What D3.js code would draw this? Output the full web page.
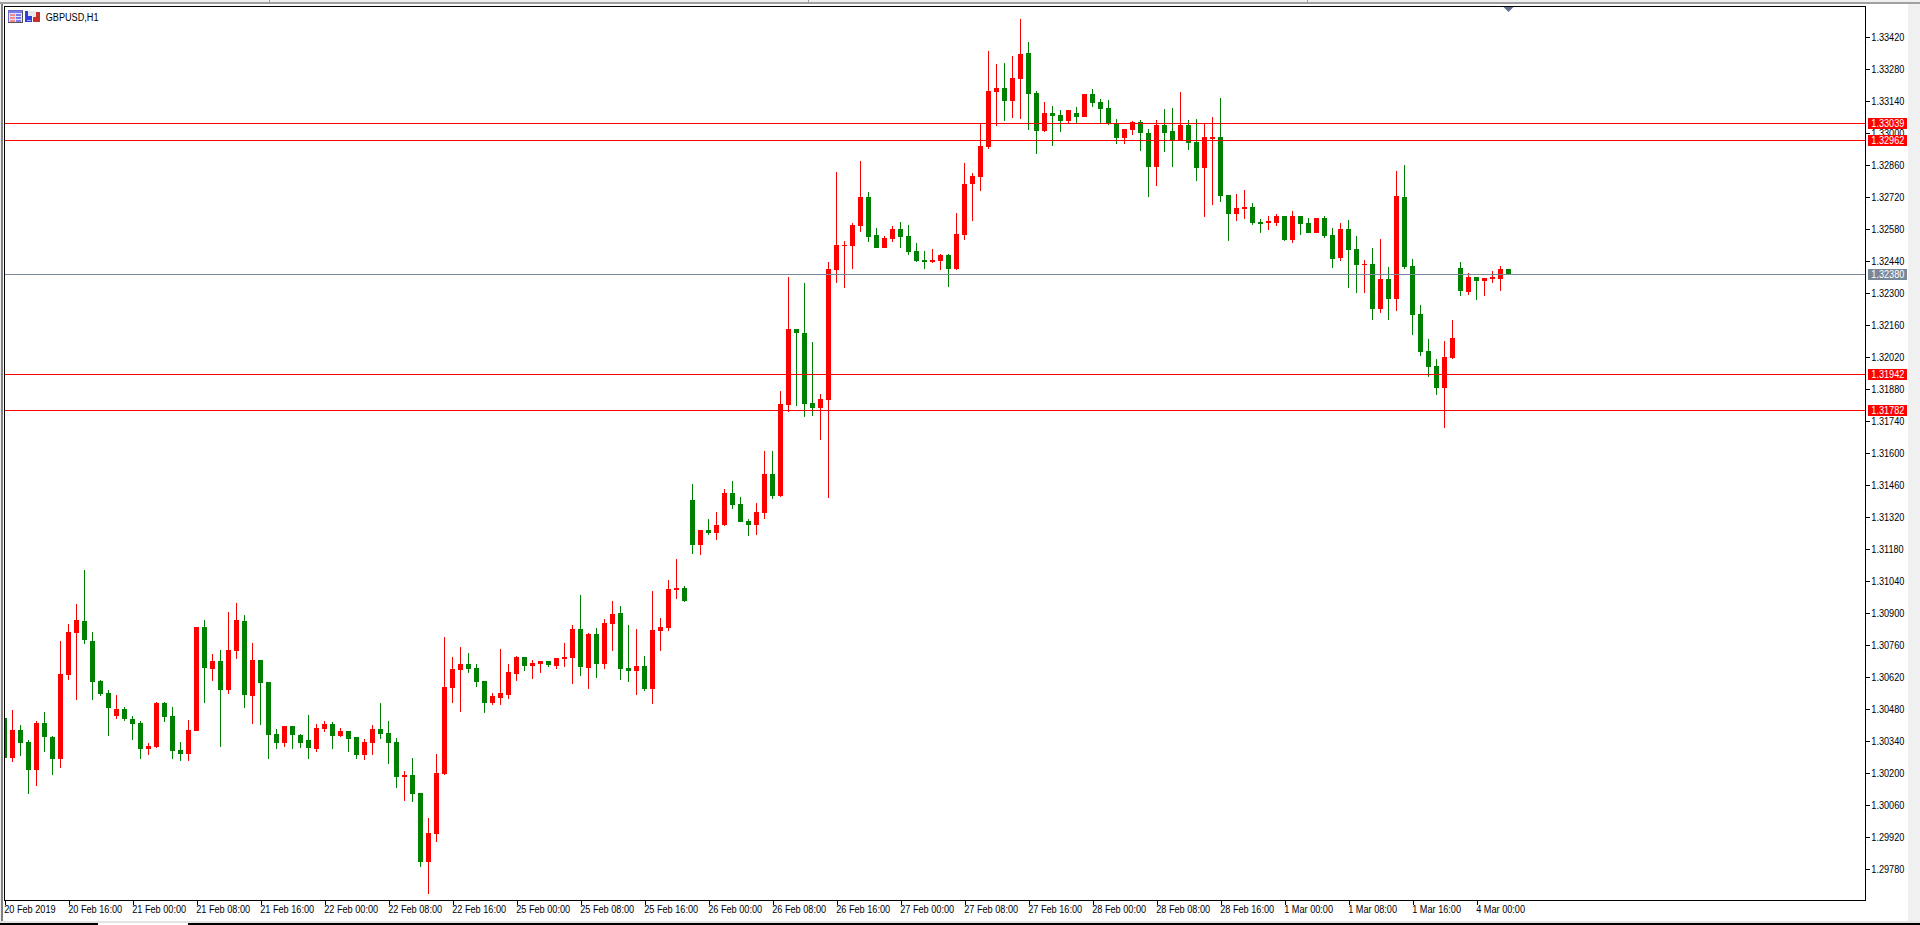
<!DOCTYPE html>
<html><head><meta charset="utf-8">
<script src="https://cdn.jsdelivr.net/npm/d3@7/dist/d3.min.js"></script>
<style>
html,body{margin:0;padding:0;background:#fff;overflow:hidden}
svg{display:block}
text{font-family:"Liberation Sans",Arial,sans-serif;font-size:10px;fill:#000}
</style></head><body>
<svg id="c" width="1920" height="925"></svg>
<script>
const symbol = "GBPUSD,H1";
const xLabels = ["20 Feb 2019","20 Feb 16:00","21 Feb 00:00","21 Feb 08:00","21 Feb 16:00","22 Feb 00:00","22 Feb 08:00","22 Feb 16:00","25 Feb 00:00","25 Feb 08:00","25 Feb 16:00","26 Feb 00:00","26 Feb 08:00","26 Feb 16:00","27 Feb 00:00","27 Feb 08:00","27 Feb 16:00","28 Feb 00:00","28 Feb 08:00","28 Feb 16:00","1 Mar 00:00","1 Mar 08:00","1 Mar 16:00","4 Mar 00:00"];
const yTicks = [1.33420,1.33280,1.33140,1.33000,1.32860,1.32720,1.32580,1.32440,1.32300,1.32160,1.32020,1.31880,1.31740,1.31600,1.31460,1.31320,1.31180,1.31040,1.30900,1.30760,1.30620,1.30480,1.30340,1.30200,1.30060,1.29920,1.29780];
const redLevels = [1.33039,1.32962,1.31942,1.31782];
const lastPrice = 1.32380;

const opens = [1.30438,1.30263,1.30386,1.30333,1.30211,1.30416,1.30355,1.30259,1.30626,1.30810,1.30863,1.30775,1.30600,1.30548,1.30447,1.30478,1.30434,1.30416,1.30303,1.30311,1.30504,1.30447,1.30298,1.30281,1.30381,1.30836,1.30653,1.30688,1.30561,1.30731,1.30863,1.30535,1.30692,1.30596,1.30368,1.30329,1.30403,1.30364,1.30342,1.30303,1.30390,1.30412,1.30360,1.30381,1.30355,1.30276,1.30329,1.30390,1.30373,1.30333,1.30180,1.30189,1.30110,1.29808,1.29931,1.30193,1.30570,1.30648,1.30675,1.30657,1.30600,1.30504,1.30526,1.30539,1.30631,1.30705,1.30666,1.30675,1.30688,1.30666,1.30696,1.30701,1.30828,1.30657,1.30806,1.30675,1.30850,1.30898,1.30657,1.30644,1.30666,1.30565,1.30819,1.30832,1.30998,1.31007,1.31392,1.31195,1.31261,1.31248,1.31283,1.31423,1.31375,1.31300,1.31283,1.31335,1.31506,1.31410,1.31808,1.32140,1.32123,1.31817,1.31795,1.31830,1.32399,1.32504,1.32504,1.32591,1.32718,1.32552,1.32495,1.32534,1.32578,1.32547,1.32482,1.32442,1.32434,1.32438,1.32464,1.32403,1.32552,1.32775,1.32806,1.32937,1.33177,1.33195,1.33138,1.33234,1.33348,1.33173,1.33007,1.33086,1.33077,1.33051,1.33086,1.33068,1.33169,1.33134,1.33107,1.33037,1.32976,1.33011,1.33046,1.32998,1.32849,1.33033,1.33007,1.32967,1.33033,1.32959,1.32845,1.32972,1.32981,1.32727,1.32644,1.32666,1.32674,1.32609,1.32604,1.32604,1.32635,1.32530,1.32635,1.32604,1.32561,1.32626,1.32552,1.32451,1.32578,1.32491,1.32421,1.32425,1.32228,1.32359,1.32272,1.32718,1.32416,1.32206,1.32044,1.31979,1.31882,1.32014,1.32407,1.32302,1.32368,1.32351,1.32359,1.32359,1.32403];
const highs = [1.30438,1.30473,1.30408,1.30342,1.30425,1.30465,1.30360,1.30775,1.30850,1.30937,1.31086,1.30815,1.30605,1.30561,1.30539,1.30486,1.30447,1.30425,1.30329,1.30508,1.30508,1.30486,1.30333,1.30429,1.30836,1.30867,1.30718,1.30736,1.30902,1.30941,1.30889,1.30766,1.30692,1.30596,1.30390,1.30403,1.30403,1.30368,1.30451,1.30412,1.30425,1.30421,1.30394,1.30381,1.30355,1.30346,1.30408,1.30504,1.30425,1.30351,1.30206,1.30263,1.30110,1.30001,1.30281,1.30793,1.30705,1.30749,1.30723,1.30675,1.30600,1.30548,1.30740,1.30675,1.30710,1.30705,1.30692,1.30688,1.30688,1.30701,1.30766,1.30845,1.30976,1.30810,1.30832,1.30871,1.30950,1.30928,1.30845,1.30828,1.30710,1.30994,1.30876,1.31042,1.31134,1.31016,1.31462,1.31261,1.31309,1.31340,1.31440,1.31475,1.31405,1.31309,1.31379,1.31607,1.31607,1.31869,1.32368,1.32140,1.32342,1.32084,1.31856,1.32434,1.32827,1.32526,1.32604,1.32876,1.32740,1.32582,1.32547,1.32591,1.32609,1.32596,1.32517,1.32482,1.32491,1.32469,1.32469,1.32648,1.32867,1.32823,1.33037,1.33357,1.33300,1.33304,1.33335,1.33497,1.33396,1.33182,1.33134,1.33116,1.33099,1.33099,1.33112,1.33169,1.33191,1.33147,1.33142,1.33059,1.33016,1.33051,1.33055,1.33016,1.33055,1.33103,1.33107,1.33177,1.33055,1.33059,1.33037,1.33068,1.33151,1.32727,1.32731,1.32749,1.32692,1.32622,1.32635,1.32644,1.32635,1.32657,1.32635,1.32626,1.32626,1.32635,1.32582,1.32604,1.32617,1.32547,1.32442,1.32495,1.32534,1.32412,1.32832,1.32858,1.32447,1.32246,1.32097,1.32009,1.32088,1.32180,1.32434,1.32386,1.32368,1.32364,1.32394,1.32416,1.32403];
const lows = [1.30263,1.30246,1.30272,1.30106,1.30141,1.30290,1.30189,1.30220,1.30605,1.30517,1.30762,1.30517,1.30535,1.30360,1.30434,1.30425,1.30342,1.30259,1.30276,1.30307,1.30421,1.30259,1.30250,1.30250,1.30381,1.30504,1.30600,1.30311,1.30543,1.30696,1.30482,1.30412,1.30408,1.30259,1.30303,1.30311,1.30303,1.30307,1.30259,1.30290,1.30377,1.30303,1.30355,1.30290,1.30259,1.30254,1.30276,1.30346,1.30237,1.30132,1.30075,1.30071,1.29786,1.29668,1.29896,1.30189,1.30504,1.30465,1.30635,1.30574,1.30460,1.30495,1.30495,1.30521,1.30600,1.30644,1.30609,1.30635,1.30661,1.30653,1.30661,1.30587,1.30622,1.30565,1.30613,1.30653,1.30731,1.30605,1.30596,1.30539,1.30556,1.30500,1.30731,1.30819,1.30959,1.30946,1.31156,1.31152,1.31239,1.31217,1.31278,1.31353,1.31296,1.31235,1.31239,1.31309,1.31397,1.31405,1.31777,1.31804,1.31756,1.31760,1.31655,1.31401,1.32342,1.32320,1.32403,1.32565,1.32521,1.32495,1.32495,1.32521,1.32495,1.32464,1.32434,1.32403,1.32429,1.32399,1.32324,1.32399,1.32530,1.32613,1.32744,1.32928,1.33029,1.33051,1.33064,1.33059,1.33011,1.32906,1.33002,1.32941,1.33002,1.33042,1.33042,1.33068,1.33112,1.33042,1.33033,1.32950,1.32950,1.32989,1.32919,1.32718,1.32766,1.32915,1.32849,1.32967,1.32924,1.32788,1.32631,1.32683,1.32696,1.32526,1.32613,1.32622,1.32596,1.32561,1.32574,1.32591,1.32526,1.32517,1.32552,1.32561,1.32561,1.32539,1.32407,1.32438,1.32320,1.32298,1.32298,1.32180,1.32211,1.32180,1.32219,1.32403,1.32114,1.32022,1.31931,1.31852,1.31707,1.32009,1.32285,1.32289,1.32267,1.32285,1.32342,1.32307,1.32380];
const closes = [1.30263,1.30386,1.30329,1.30211,1.30416,1.30355,1.30259,1.30631,1.30815,1.30867,1.30780,1.30596,1.30543,1.30482,1.30478,1.30434,1.30412,1.30303,1.30316,1.30504,1.30443,1.30294,1.30281,1.30386,1.30836,1.30657,1.30688,1.30561,1.30736,1.30867,1.30539,1.30692,1.30591,1.30364,1.30329,1.30403,1.30364,1.30329,1.30307,1.30394,1.30412,1.30360,1.30381,1.30346,1.30276,1.30333,1.30390,1.30368,1.30329,1.30180,1.30189,1.30106,1.29808,1.29935,1.30198,1.30574,1.30653,1.30675,1.30653,1.30596,1.30504,1.30535,1.30548,1.30640,1.30705,1.30666,1.30679,1.30688,1.30670,1.30701,1.30705,1.30828,1.30661,1.30806,1.30675,1.30854,1.30893,1.30653,1.30644,1.30666,1.30565,1.30823,1.30836,1.31003,1.31007,1.30950,1.31195,1.31261,1.31248,1.31283,1.31423,1.31370,1.31296,1.31283,1.31340,1.31506,1.31410,1.31812,1.32140,1.32123,1.31812,1.31795,1.31834,1.32403,1.32508,1.32508,1.32596,1.32718,1.32543,1.32495,1.32539,1.32578,1.32543,1.32477,1.32438,1.32434,1.32442,1.32464,1.32403,1.32556,1.32775,1.32810,1.32941,1.33182,1.33195,1.33138,1.33239,1.33344,1.33169,1.33007,1.33086,1.33072,1.33051,1.33099,1.33068,1.33169,1.33129,1.33103,1.33037,1.32976,1.33016,1.33046,1.32998,1.32849,1.33033,1.32998,1.32967,1.33033,1.32954,1.32845,1.32981,1.32981,1.32722,1.32644,1.32670,1.32674,1.32604,1.32600,1.32613,1.32635,1.32530,1.32635,1.32600,1.32561,1.32626,1.32547,1.32447,1.32578,1.32486,1.32421,1.32425,1.32228,1.32359,1.32272,1.32722,1.32412,1.32202,1.32040,1.31974,1.31882,1.32018,1.32101,1.32307,1.32368,1.32351,1.32364,1.32368,1.32403,1.32380];

const svg = d3.select("#c");
const x = d3.scaleLinear().domain([0, 188]).range([4.5, 1508.5]);
const y = d3.scaleLinear().domain([1.29780, 1.33420]).range([868.5, 36.5]);
const UP = "#ff0000", DOWN = "#008000", SLATE = "#778899";
const ry = v => Math.round(y(v));
const levelRow = v => Math.round(y(v) - 0.7);

// squeeze glyphs so 10px text occupies the narrower width of the reference's terminal font
function squeeze(sel) {
  sel.each(function () {
    const n = this.getComputedTextLength();
    this.setAttribute("textLength", (n * 0.915).toFixed(2));
    this.setAttribute("lengthAdjust", "spacingAndGlyphs");
  });
  return sel;
}

// window chrome
const chrome = svg.append("g").attr("shape-rendering", "crispEdges");
chrome.append("rect").attr("x",0).attr("y",0).attr("width",1920).attr("height",2).attr("fill","#f0f0f0");
chrome.append("rect").attr("x",0).attr("y",2).attr("width",1920).attr("height",2).attr("fill","#a0a0a0");
chrome.append("rect").attr("x",0).attr("y",4).attr("width",1).attr("height",921).attr("fill","#f0f0f0");
chrome.append("rect").attr("x",1).attr("y",4).attr("width",2).attr("height",917).attr("fill","#808080");
chrome.append("rect").attr("x",1908).attr("y",4).attr("width",12).attr("height",917).attr("fill","#f0f0f0");
chrome.append("rect").attr("x",0).attr("y",921).attr("width",1920).attr("height",2).attr("fill","#e4e4e4");
chrome.append("rect").attr("x",0).attr("y",923).attr("width",98).attr("height",2).attr("fill","#000");
chrome.append("rect").attr("x",188).attr("y",923).attr("width",1732).attr("height",2).attr("fill","#000");
[269,808,1307].forEach(sx => chrome.append("rect").attr("x",sx).attr("y",0).attr("width",1).attr("height",2).attr("fill","#a0a0a0"));

// clipped plot area
svg.append("clipPath").attr("id","plot").append("rect").attr("x",5).attr("y",7).attr("width",1860).attr("height",893);
const plot = svg.append("g").attr("clip-path","url(#plot)").attr("shape-rendering","crispEdges");

const idx = d3.range(opens.length);
const colour = i => closes[i] >= opens[i] ? UP : DOWN;
plot.selectAll("line.wick").data(idx).join("line").attr("class","wick")
  .attr("x1", i => x(i)).attr("x2", i => x(i))
  .attr("y1", i => ry(highs[i])).attr("y2", i => ry(lows[i]))
  .attr("stroke", colour).attr("stroke-width", 1);
plot.selectAll("rect.body").data(idx).join("rect").attr("class","body")
  .attr("x", i => x(i) - 2.5).attr("width", 5)
  .attr("y", i => ry(Math.max(opens[i], closes[i])))
  .attr("height", i => Math.max(1, ry(Math.min(opens[i], closes[i])) - ry(Math.max(opens[i], closes[i]))))
  .attr("fill", colour);

const levelY = v => levelRow(v) + 0.5;
plot.selectAll("line.level").data(redLevels).join("line").attr("class","level")
  .attr("x1",4).attr("x2",1866).attr("y1",levelY).attr("y2",levelY).attr("stroke",UP);
plot.append("line").attr("x1",4).attr("x2",1866).attr("y1",levelY(lastPrice)).attr("y2",levelY(lastPrice)).attr("stroke",SLATE);

// axes through D3
const labelIdx = xLabels.map((_, i) => i * 8);
const xAxis = d3.axisBottom(x).tickValues(labelIdx).tickSize(4).tickSizeOuter(0).tickFormat((d, i) => xLabels[i]);
const gx = svg.append("g").attr("transform","translate(0,900.5)").call(xAxis);
gx.select(".domain").remove();
gx.selectAll(".tick line").attr("stroke","#000").attr("shape-rendering","crispEdges");
gx.selectAll(".tick text").attr("text-anchor","start").attr("x",-0.8).attr("y",12.2).attr("dy",0)
  .style("font-size","10px").style("font-family",'"Liberation Sans"').call(squeeze);

const yAxis = d3.axisRight(y).tickValues(yTicks).tickSize(4).tickSizeOuter(0).tickFormat(d3.format(".5f"));
const gy = svg.append("g").attr("transform","translate(1866,0)").call(yAxis);
gy.select(".domain").remove();
gy.selectAll(".tick line").attr("stroke","#000").attr("shape-rendering","crispEdges");
gy.selectAll(".tick text").attr("x",5.3).attr("dy",0).attr("y",3.5)
  .style("font-size","10px").style("font-family",'"Liberation Sans"').call(squeeze);

// frame
svg.append("rect").attr("x",4.5).attr("y",6.5).attr("width",1861).attr("height",894)
  .attr("fill","none").attr("stroke","#000").attr("shape-rendering","crispEdges");

// price flags
const flags = redLevels.map(v => ({v, c:UP})).concat([{v:lastPrice, c:SLATE}]);
const fg = svg.selectAll("g.flag").data(flags).join("g").attr("class","flag");
fg.append("rect").attr("x",1868).attr("width",39).attr("height",11)
  .attr("y", d => levelRow(d.v) - 5).attr("fill", d => d.c).attr("shape-rendering","crispEdges");
fg.append("text").attr("x",1871.3).attr("y", d => levelRow(d.v) + 4)
  .text(d => d3.format(".5f")(d.v)).style("fill","#fff").call(squeeze);

// top-left title + icons
svg.append("text").attr("x",45.7).attr("y",20.5).text(symbol).call(squeeze);
const ic = svg.append("g").attr("shape-rendering","crispEdges");
ic.append("rect").attr("x",8.5).attr("y",10.5).attr("width",14).attr("height",12).attr("fill","#dfe3ff").attr("stroke","#6a6ad0");
ic.append("rect").attr("x",8).attr("y",22).attr("width",15).attr("height",1).attr("fill","#555");
ic.append("rect").attr("x",22).attr("y",11).attr("width",1).attr("height",12).attr("fill","#555");
ic.append("rect").attr("x",9).attr("y",11).attr("width",13).attr("height",2).attr("fill","#7a7aee");
d3.range(3).forEach(k => {
  ic.append("rect").attr("x",10).attr("y",14+k*3).attr("width",5).attr("height",2).attr("fill","#f08a8a");
  ic.append("rect").attr("x",16).attr("y",14+k*3).attr("width",5).attr("height",2).attr("fill","#7a7aee");
});
ic.append("rect").attr("x",25).attr("y",11).attr("width",7).attr("height",11).attr("fill","#2f3fd8");
ic.append("rect").attr("x",28).attr("y",11).attr("width",5).attr("height",5).attr("fill","#e8e8f0");
ic.append("rect").attr("x",33).attr("y",12).attr("width",7).attr("height",10).attr("fill","#c8302c");
ic.append("rect").attr("x",33).attr("y",11).attr("width",3).attr("height",6).attr("fill","#e8e8e8");
ic.append("rect").attr("x",27).attr("y",20).attr("width",4).attr("height",1).attr("fill","#a0b0ff");

// marker at the top for the last bar
svg.append("path")
  .attr("d", d3.line()([[x(188)-5,7],[x(188)+5,7],[x(188),12]]) + "Z")
  .attr("fill", "#5f7390");
</script>
</body></html>
